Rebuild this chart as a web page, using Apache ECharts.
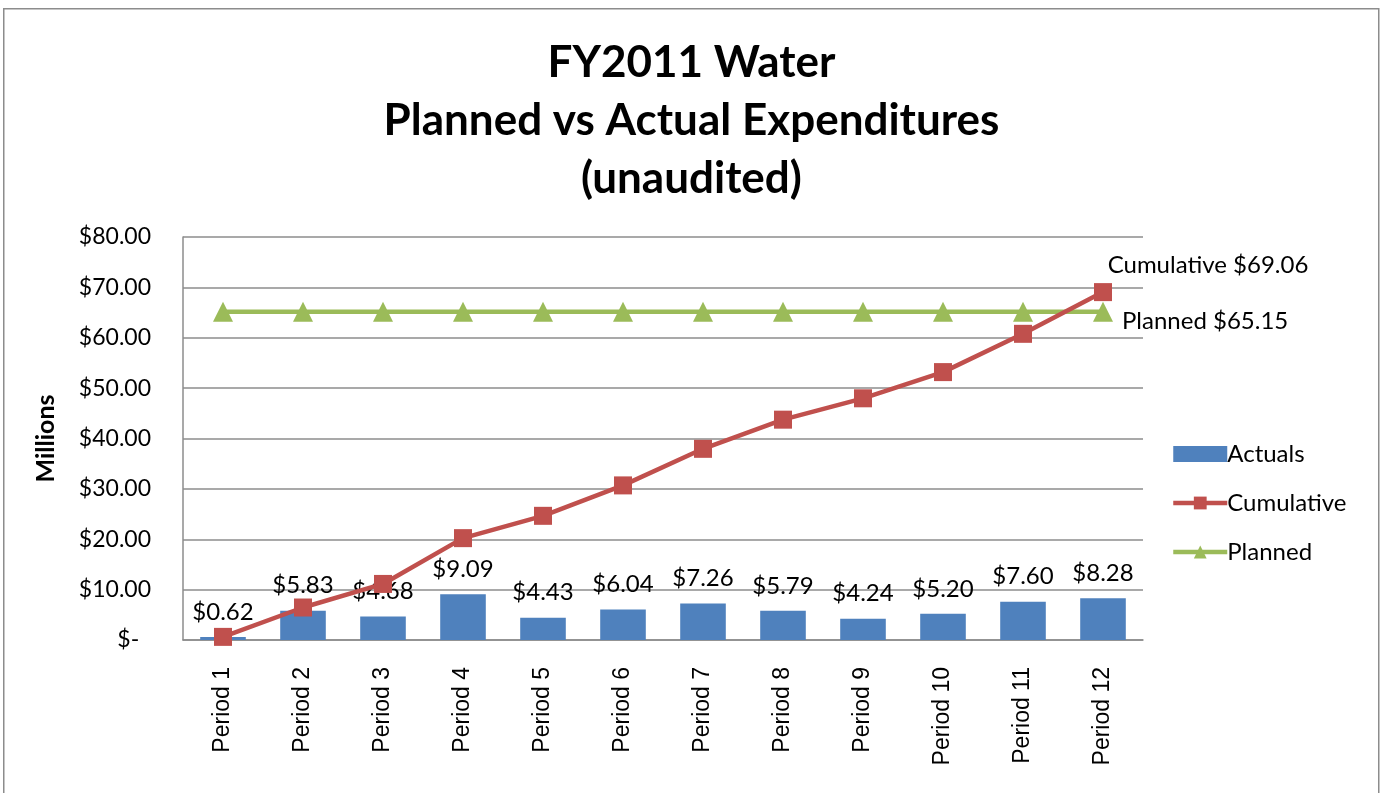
<!DOCTYPE html>
<html>
<head>
<meta charset="utf-8">
<script src="https://cdn.jsdelivr.net/npm/echarts@6/dist/echarts.min.js"></script>
<style>
html,body{margin:0;padding:0;background:#fff;}
#main{width:1383px;height:793px;}
</style>
</head>
<body>
<div id="main"></div>
<script>
var categories = ['Period 1','Period 2','Period 3','Period 4','Period 5','Period 6','Period 7','Period 8','Period 9','Period 10','Period 11','Period 12'];
var actuals = [0.62, 5.83, 4.68, 9.09, 4.43, 6.04, 7.26, 5.79, 4.24, 5.20, 7.60, 8.28];
var cumulative = [0.62, 6.45, 11.13, 20.22, 24.65, 30.69, 37.95, 43.74, 47.98, 53.18, 60.78, 69.06];
var planned = [65.15, 65.15, 65.15, 65.15, 65.15, 65.15, 65.15, 65.15, 65.15, 65.15, 65.15, 65.15];
var yTicks = [0, 10, 20, 30, 40, 50, 60, 70, 80];

var FONT = 'Lato';
var chart = echarts.init(document.getElementById('main'));
var last = categories.length - 1;

function lastLabelData(arr, labelCfg) {
  return arr.map(function (v, i) {
    if (i === last) return { value: v, label: labelCfg };
    return v;
  });
}

chart.setOption({
  animation: false,
  textStyle: { fontFamily: FONT },
  graphic: [{
    type: 'rect', left: 3, top: 8, z: -1,
    shape: { width: 1375, height: 800 },
    style: { fill: '#fff', stroke: '#8c8c8c', lineWidth: 1.5 }
  }],
  title: {
    text: 'FY2011 Water\nPlanned vs Actual Expenditures\n(unaudited)',
    left: 'center', top: 29,
    textStyle: { fontFamily: FONT, fontSize: 44, fontWeight: 'bold', color: '#000', lineHeight: 58 }
  },
  legend: {
    orient: 'vertical', left: 1166, top: 437, itemGap: 25,
    itemWidth: 54, itemHeight: 16,
    textStyle: { fontFamily: FONT, fontSize: 24, color: '#000', padding: [0, 0, 0, -5] },
    data: [
      { name: 'Actuals', icon: 'rect', itemStyle: { color: '#4F81BD' } },
      { name: 'Cumulative', lineStyle: { width: 4.5, color: '#C0504D' } },
      { name: 'Planned', lineStyle: { width: 4.5, color: '#9BBB59' } }
    ]
  },
  grid: { left: 183, right: 240, top: 237, bottom: 153, containLabel: false },
  xAxis: {
    type: 'category', data: categories,
    axisLine: { lineStyle: { color: '#8c8c8c', width: 1.5 } },
    axisTick: { show: false },
    axisLabel: { rotate: 90, fontFamily: 'Liberation Sans', fontSize: 23, color: '#000', margin: 27 }
  },
  yAxis: {
    type: 'value', min: yTicks[0], max: yTicks[yTicks.length - 1], interval: 10,
    name: 'Millions', nameLocation: 'middle', nameRotate: 90, nameGap: 125,
    nameTextStyle: { fontFamily: FONT, fontSize: 25, fontWeight: 'bold', color: '#000' },
    axisLine: { show: true, lineStyle: { color: '#8c8c8c', width: 1.5 } },
    axisTick: { show: false },
    splitLine: { lineStyle: { color: '#8c8c8c', width: 1.5 } },
    axisLabel: {
      fontFamily: FONT, fontSize: 23, color: '#000', margin: 32,
      formatter: function (v) { return v === 0 ? '$-  ' : '$' + v.toFixed(2); }
    }
  },
  series: [
    {
      name: 'Actuals', type: 'bar', data: actuals, barWidth: '57%',
      itemStyle: { color: '#4F81BD' },
      label: {
        show: true, position: 'top', distance: 13,
        fontFamily: FONT, fontSize: 24, color: '#000',
        formatter: function (p) { return '$' + p.value.toFixed(2); }
      },
      z: 2
    },
    {
      name: 'Cumulative', type: 'line',
      data: lastLabelData(cumulative, {
        show: true, position: 'top', offset: [105, -1],
        fontFamily: FONT, fontSize: 24, color: '#000',
        formatter: function (p) { return 'Cumulative $' + p.value.toFixed(2); }
      }),
      symbol: 'rect', symbolSize: 18,
      lineStyle: { color: '#C0504D', width: 4.5 },
      itemStyle: { color: '#C0504D' },
      z: 4
    },
    {
      name: 'Planned', type: 'line',
      data: lastLabelData(planned, {
        show: true, position: 'right', distance: 9, offset: [0, 9],
        fontFamily: FONT, fontSize: 24, color: '#000',
        formatter: function (p) { return 'Planned $' + p.value.toFixed(2); }
      }),
      symbol: 'triangle', symbolSize: 20,
      lineStyle: { color: '#9BBB59', width: 4.5 },
      itemStyle: { color: '#9BBB59' },
      z: 3
    }
  ]
});
</script>
</body>
</html>
